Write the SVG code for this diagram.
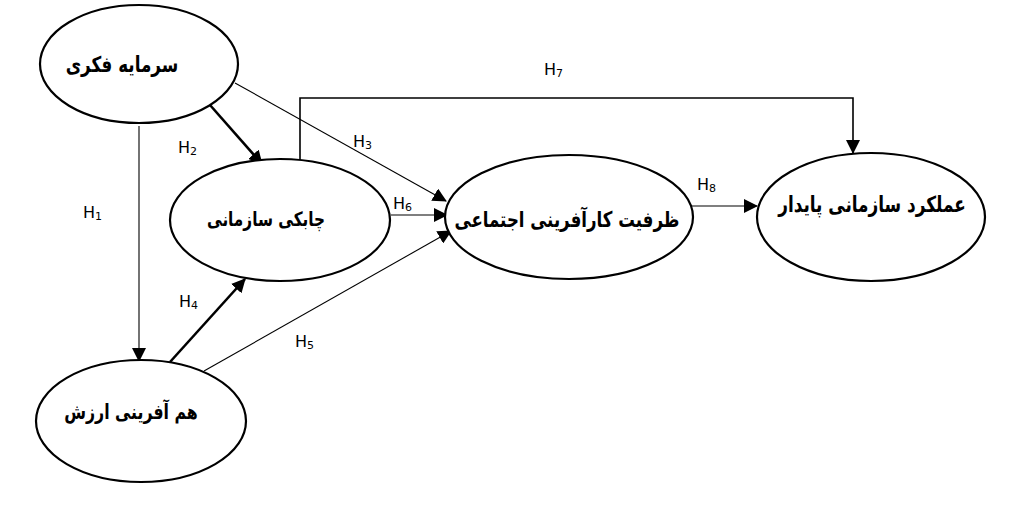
<svg xmlns="http://www.w3.org/2000/svg" width="1024" height="506" viewBox="0 0 1024 506">
<style>
.node ellipse{fill:#fff;stroke:#000;stroke-width:2.2}
.node text{font-family:"DejaVu Sans",sans-serif;font-weight:bold;font-size:17px;fill:#000;text-anchor:middle;direction:rtl}
.lbl{font-family:"DejaVu Sans",sans-serif;font-size:16px;fill:#000}
.sub{font-size:11px}
.c{fill:none;stroke:#000}
.thin{stroke-width:1.1}
.mid{stroke-width:1.6}
.thick{stroke-width:2.6}
</style>
<defs>
<marker id="ah" markerUnits="userSpaceOnUse" markerWidth="14" markerHeight="14" refX="13" refY="7" orient="auto">
<path d="M0,0 L14,7 L0,14 z" fill="#000"/>
</marker>
</defs>
<rect width="1024" height="506" fill="#fff"/>
<g id="connectors">
<path class="c thin" d="M139,126 L139,361" marker-end="url(#ah)"/>
<path class="c thick" d="M210,105 L262,164" marker-end="url(#ah)"/>
<path class="c thin" d="M235,83 L446,201" marker-end="url(#ah)"/>
<path class="c thin" d="M391,215 L447,215" marker-end="url(#ah)"/>
<path class="c thin" d="M204,371 L451,231" marker-end="url(#ah)"/>
<path class="c thick" d="M170,362 L245,279" marker-end="url(#ah)"/>
<path class="c mid" d="M300,160 L300,98 L853,98 L853,153" marker-end="url(#ah)"/>
<path class="c thin" d="M680,206 L757,206" marker-end="url(#ah)"/>
</g>
<g id="labels">
<text class="lbl" x="83" y="218">H<tspan class="sub" dy="2">1</tspan></text>
<text class="lbl" x="178" y="153">H<tspan class="sub" dy="2">2</tspan></text>
<text class="lbl" x="353" y="147">H<tspan class="sub" dy="2">3</tspan></text>
<text class="lbl" x="179" y="307">H<tspan class="sub" dy="2">4</tspan></text>
<text class="lbl" x="295" y="347">H<tspan class="sub" dy="2">5</tspan></text>
<text class="lbl" x="393" y="209">H<tspan class="sub" dy="2">6</tspan></text>
<text class="lbl" x="544" y="75">H<tspan class="sub" dy="2">7</tspan></text>
<text class="lbl" x="697" y="190">H<tspan class="sub" dy="2">8</tspan></text>
</g>
<g id="n1" class="node">
<ellipse cx="139" cy="64" rx="99" ry="59"/>
<text transform="translate(122,72) scale(1,1.3)" style="font-size:16.8px">سرمایه فکری</text>
</g>
<g id="n2" class="node">
<ellipse cx="280" cy="220" rx="110" ry="61"/>
<text transform="translate(266,226) scale(1,1.3)" style="font-size:15.3px">چابکی سازمانی</text>
</g>
<g id="n3" class="node">
<ellipse cx="141" cy="421" rx="105" ry="61"/>
<text transform="translate(131,419) scale(1,1.3)" style="font-size:15.8px">هم آفرینی ارزش</text>
</g>
<g id="n4" class="node">
<ellipse cx="569" cy="217" rx="124" ry="62"/>
<text transform="translate(567,227) scale(1,1.3)" style="font-size:16.6px">ظرفیت کارآفرینی اجتماعی</text>
</g>
<g id="n5" class="node">
<ellipse cx="871" cy="217" rx="114" ry="64"/>
<text transform="translate(872,212) scale(1,1.3)" style="font-size:16.9px">عملکرد سازمانی پایدار</text>
</g>
</svg>
